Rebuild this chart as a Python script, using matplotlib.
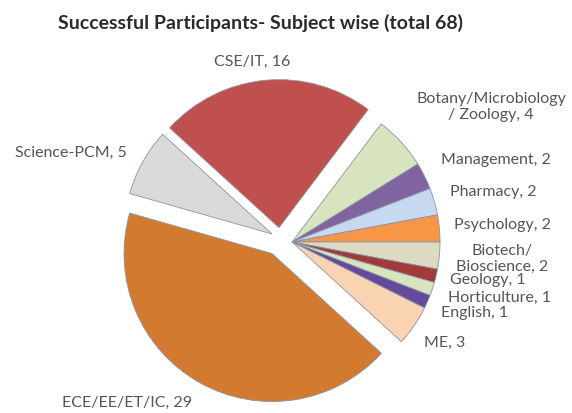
import matplotlib
matplotlib.use("Agg")
import matplotlib.pyplot as plt

# data (clockwise order, as in the reference)
subjects = ["CSE/IT", "Botany/Microbiology\n/ Zoology", "Management", "Pharmacy",
            "Psychology", "Biotech/\nBioscience", "Geology", "Horticulture",
            "English", "ME", "ECE/EE/ET/IC", "Science-PCM"]
counts = [16, 4, 2, 2, 2, 2, 1, 1, 1, 3, 29, 5]
title = "Successful Participants- Subject wise (total 68)"

colors = ["#C0504D", "#D7E4BD", "#8064A2", "#C6D9F1", "#F79646", "#DDD9C3",
          "#A33A3A", "#D7E4BD", "#66499A", "#FAD3B2", "#D27B30", "#D9D9D9"]
# shift of exploded slices (in radius units)
offsets = [(-0.088, 0.097), None, None, None, None, None, None, None, None,
           None, (-0.135, -0.078), (-0.135, 0.054)]
# label centres in pixels (x, y from top)
label_px = [(252, 62), (491, 107), (496, 160), (493, 192), (503, 225), (502, 259),
            (488, 280), (500, 298), (475, 313), (445, 343), (127, 403), (71, 153)]

W, H = 572, 413
cx, cy, r = 292, 242, 148

fig = plt.figure(figsize=(W / 100, H / 100), dpi=100)
ax = fig.add_axes([0, 0, 1, 1])

start = 360 * sum(counts[:5]) / sum(counts)
wedges, _ = ax.pie(counts, colors=colors, startangle=start, counterclock=False,
                   radius=1, wedgeprops=dict(edgecolor="#8a94a6", linewidth=0.6))
for w, off in zip(wedges, offsets):
    if off is not None:
        w.set_center(off)

ax.set_xlim(-cx / r, (W - cx) / r)
ax.set_ylim(-(H - cy) / r, cy / r)
ax.axis("off")

for name, n, (px, py) in zip(subjects, counts, label_px):
    fig.text(px / W, 1 - py / H, f"{name}, {n}", ha="center", va="center",
             fontsize=11.5, family="Lato", color="#555555", linespacing=1.15)

fig.text(260 / W, 1 - 23 / H, title, ha="center", va="center",
         fontsize=14, family="Lato", fontweight="bold", color="#2b2b2b")

fig.savefig("out.png", dpi=100)
